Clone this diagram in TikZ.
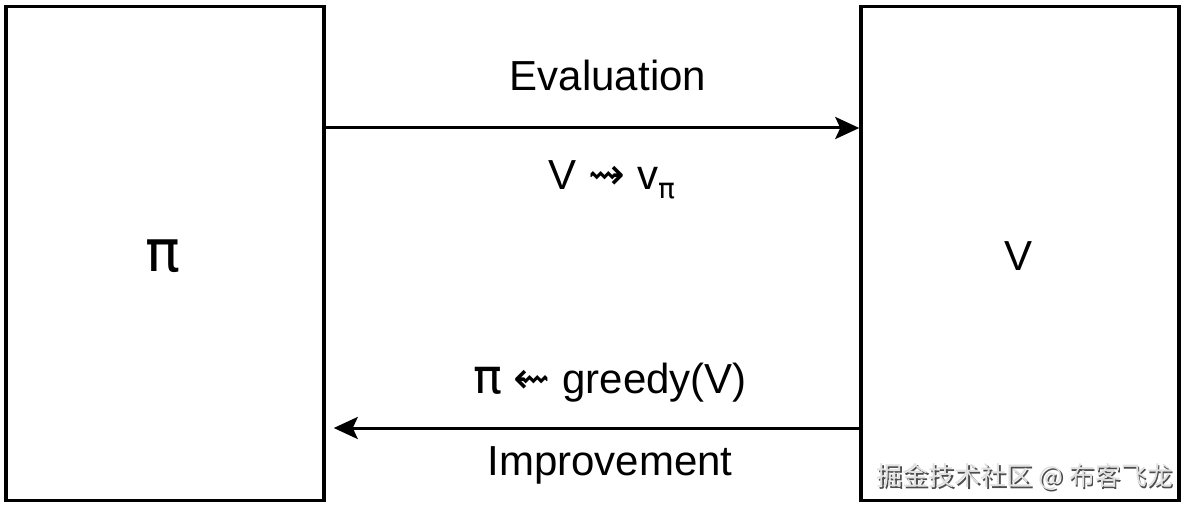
\documentclass[tikz,border=0pt]{standalone}
\usepackage{fontspec}
\setmainfont{Liberation Sans}
\newfontfamily\symfont{DejaVu Sans}
\newfontfamily\cjk{Noto Sans CJK SC}
\usetikzlibrary{arrows.meta,calc}
\tikzset{
  blockbox/.style={draw, line width=3.5pt, minimum width=318pt, minimum height=494pt, inner sep=0pt},
  flow/.style={line width=3pt, -{Stealth[length=24pt,width=22pt,inset=5pt]}},
  lbl/.style={font=\fontsize{42}{48}\selectfont, inner sep=0pt}
}
\begin{document}
\begin{tikzpicture}[x=1pt,y=1pt]
            \useasboundingbox (0,0) rectangle (1185,507);
            \node[blockbox] (pi) at (165,253.5) {};
            \node[blockbox] (v) at (1020,253.5) {};
            \node[lbl, font=\symfont\fontsize{58}{60}\selectfont] (pilbl) at (163,251) {π};
            \node[lbl] (vlbl) at (1018,251) {V};
            \coordinate (evalend) at ($(v.west)+(0,125.5)$);
            \coordinate (imprend) at ($(pi.east)+(8,-174.5)$);
            \draw[flow] (pi.east |- evalend) -- (evalend);
            \draw[flow] (v.west |- imprend) -- (imprend);
            \node[lbl] (eval) at (608,432) {Evaluation};
            \node[lbl] (evalrule) at (612,327) {V {\symfont\fontsize{44}{44}\selectfont ⇝} v\raisebox{-9pt}{\symfont\fontsize{28}{28}\selectfont π}};
            \node[lbl] (imprrule) at (610,124) {{\symfont\fontsize{48}{48}\selectfont π} {\symfont\fontsize{44}{44}\selectfont ⇜} greedy(V)};
            \node[lbl] (impr) at (610,42) {Improvement};
            % watermark
            \node[font=\cjk\fontsize{26}{30}\selectfont, text=black!70] at (1026.5,28.5) {掘金技术社区 @ 布客飞龙};
            \node[font=\cjk\fontsize{26}{30}\selectfont, text=black!12] (mark) at (1025,30) {掘金技术社区 @ 布客飞龙};
\end{tikzpicture}
\end{document}
